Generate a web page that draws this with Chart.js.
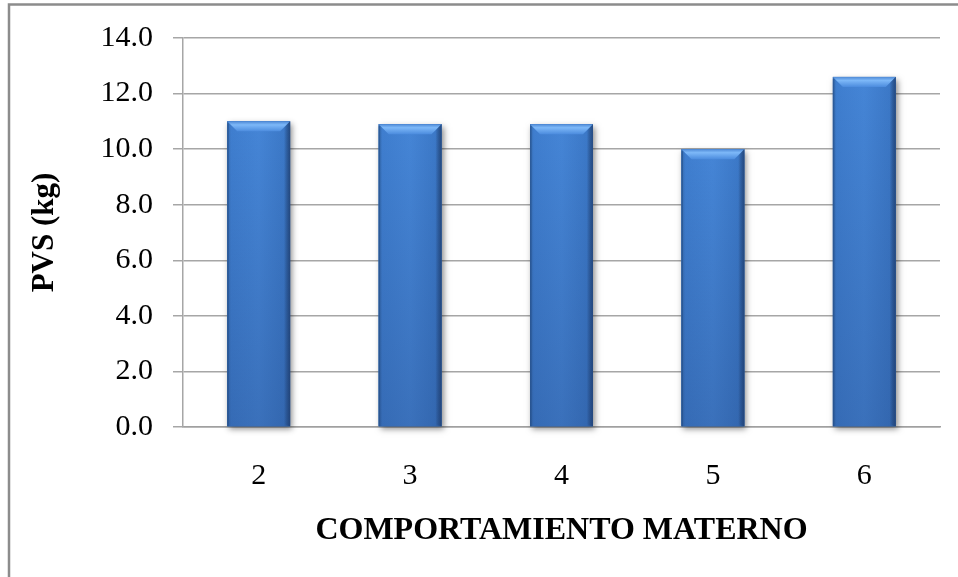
<!DOCTYPE html>
<html>
<head>
<meta charset="utf-8">
<script src="https://cdn.jsdelivr.net/npm/chart.js@4.4.1/dist/chart.umd.min.js"></script>
<style>
  html, body { margin: 0; padding: 0; background: #fff; }
  #wrap { width: 958px; height: 577px; }
</style>
</head>
<body>
<div id="wrap"><canvas id="myChart" width="958" height="577"></canvas></div>
<script>
// data
const categories = ['2', '3', '4', '5', '6'];
const pvsValues = [11.0, 10.9, 10.9, 10.0, 12.6];
const yMin = 0;
const yMax = 14;
const yStep = 2;
const xTitle = 'COMPORTAMIENTO MATERNO';
const yTitle = 'PVS (kg)';

const serif = "'Liberation Serif', 'Times New Roman', serif";

// gray frame around the chart (top and left edge)
const framePlugin = {
  id: 'frame',
  beforeDraw(chart) {
    const ctx = chart.ctx;
    ctx.save();
    ctx.fillStyle = '#fff';
    ctx.fillRect(0, 0, chart.width, chart.height);
    ctx.strokeStyle = '#8c8c8c';
    ctx.lineWidth = 2.5;
    ctx.beginPath();
    ctx.moveTo(9, chart.height);
    ctx.lineTo(9, 4.5);
    ctx.lineTo(chart.width, 4.5);
    ctx.stroke();
    ctx.restore();
  }
};

// shaded "cylinder" look with a bevelled top for every bar
const bevelPlugin = {
  id: 'bevel',
  afterDatasetsDraw(chart) {
    const ctx = chart.ctx;
    const meta = chart.getDatasetMeta(0);
    meta.data.forEach(bar => {
      const p = bar.getProps(['x', 'y', 'base', 'width'], true);
      const l = p.x - p.width / 2, r = p.x + p.width / 2;
      const t = p.y, b = p.base;
      const w = r - l, h = b - t;

      // drop shadow
      ctx.save();
      ctx.shadowColor = 'rgba(0,0,0,0.45)';
      ctx.shadowBlur = 6;
      ctx.shadowOffsetX = 2;
      ctx.shadowOffsetY = 3;
      ctx.fillStyle = '#3a72bb';
      ctx.fillRect(l, t, w, h);
      ctx.restore();

      // body, lighter in the middle
      const hg = ctx.createLinearGradient(l, 0, r, 0);
      hg.addColorStop(0, '#3469ad');
      hg.addColorStop(0.06, '#3f7ecf');
      hg.addColorStop(0.5, '#4585d6');
      hg.addColorStop(0.9, '#3c79c8');
      hg.addColorStop(1, '#2b5894');
      ctx.fillStyle = hg;
      ctx.fillRect(l, t, w, h);

      // darker toward the base
      const vg = ctx.createLinearGradient(0, t, 0, b);
      vg.addColorStop(0, 'rgba(20,40,90,0)');
      vg.addColorStop(1, 'rgba(20,40,90,0.22)');
      ctx.fillStyle = vg;
      ctx.fillRect(l, t, w, h);

      // top bevel
      const bv = 10;
      const tg = ctx.createLinearGradient(0, t, 0, t + bv);
      tg.addColorStop(0, '#4f8ad6');
      tg.addColorStop(0.35, '#7db8f8');
      tg.addColorStop(1, '#4c8cde');
      ctx.fillStyle = tg;
      ctx.beginPath();
      ctx.moveTo(l, t);
      ctx.lineTo(r, t);
      ctx.lineTo(r - bv, t + bv);
      ctx.lineTo(l + bv, t + bv);
      ctx.closePath();
      ctx.fill();

      // right edge bevel
      const rg = ctx.createLinearGradient(r - 6, 0, r, 0);
      rg.addColorStop(0, 'rgba(30,60,110,0)');
      rg.addColorStop(1, 'rgba(30,60,110,0.5)');
      ctx.fillStyle = rg;
      ctx.beginPath();
      ctx.moveTo(r, t);
      ctx.lineTo(r, b);
      ctx.lineTo(r - 6, b - 2);
      ctx.lineTo(r - 6, t + 6);
      ctx.closePath();
      ctx.fill();

      // left edge line
      ctx.fillStyle = 'rgba(35,75,130,0.5)';
      ctx.fillRect(l, t + 2, 1.5, h - 2);
    });
  }
};

const ctx = document.getElementById('myChart');

new Chart(ctx, {
  type: 'bar',
  data: {
    labels: categories,
    datasets: [{
      label: yTitle,
      data: pvsValues,
      backgroundColor: '#3d7bc9',
      borderWidth: 0,
      barPercentage: 1,
      categoryPercentage: 0.415
    }]
  },
  options: {
    responsive: false,
    animation: false,
    events: [],
    layout: {
      padding: { left: 22, right: 18, top: 36, bottom: 0 }
    },
    plugins: {
      legend: { display: false },
      tooltip: { enabled: false }
    },
    scales: {
      x: {
        afterFit(scale) { scale.height = 150; },
        grid: { display: false, drawTicks: false },
        border: { display: true, color: '#a0a0a0', width: 1.5 },
        ticks: {
          padding: 31,
          color: '#000',
          font: { family: serif, size: 30 }
        },
        title: {
          display: true,
          text: xTitle,
          color: '#000',
          font: { family: serif, size: 32, weight: 'bold' },
          padding: { top: 0, bottom: 27 }
        }
      },
      y: {
        min: yMin,
        max: yMax,
        afterFit(scale) { scale.width = 161; },
        grid: {
          color: '#a6a6a6',
          lineWidth: 1.5,
          drawTicks: true,
          tickLength: 10,
          tickColor: '#a6a6a6'
        },
        border: { display: true, color: '#a6a6a6', width: 1.5 },
        ticks: {
          stepSize: yStep,
          padding: 20,
          color: '#000',
          font: { family: serif, size: 30 },
          callback: v => v.toFixed(1)
        },
        title: {
          display: true,
          text: yTitle,
          color: '#000',
          font: { family: serif, size: 31, weight: 'bold' },
          padding: { top: 4, bottom: 4 }
        }
      }
    }
  },
  plugins: [framePlugin, bevelPlugin]
});
</script>
</body>
</html>
